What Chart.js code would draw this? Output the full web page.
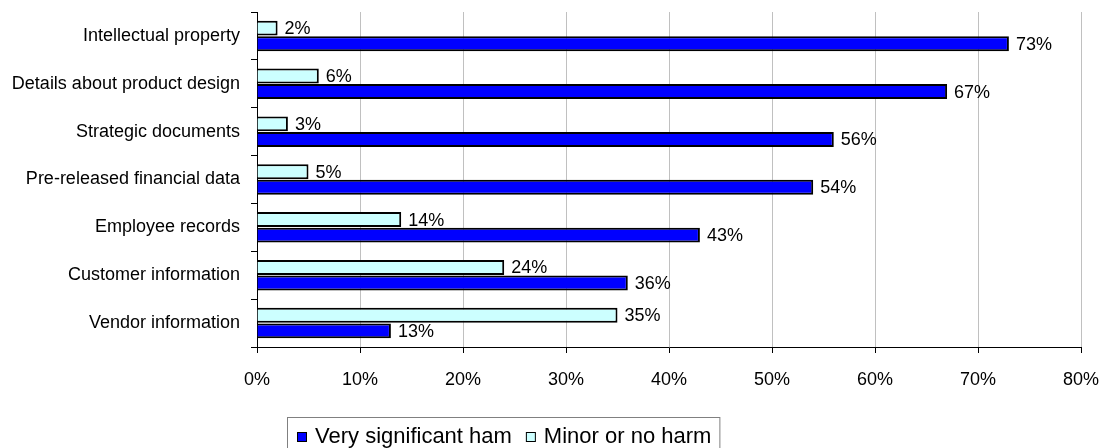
<!DOCTYPE html>
<html>
<head>
<meta charset="utf-8">
<script src="https://cdn.jsdelivr.net/npm/chart.js@4"></script>
<style>
  html, body { margin: 0; padding: 0; background: #ffffff; }
  #wrap { width: 1107px; height: 448px; position: relative; }
</style>
</head>
<body>
<div id="wrap"><canvas id="chart" width="1107" height="448"></canvas></div>
<script>
// dati del grafico
const categories = [
    'Intellectual property',
    'Details about product design',
    'Strategic documents',
    'Pre-released financial data',
    'Employee records',
    'Customer information',
    'Vendor information'
];
const minorHarm = [2, 6, 3, 5, 14, 24, 35];
const significantHarm = [73, 67, 56, 54, 43, 36, 13];
const seriesNames = ['Very significant ham', 'Minor or no harm'];
const xTicks = [0, 10, 20, 30, 40, 50, 60, 70, 80];

const FONT = "'Liberation Sans', Arial, sans-serif";

// etichette valore a destra delle barre
const valueLabels = {
    id: 'valueLabels',
    afterDatasetsDraw(chart) {
        const ctx = chart.ctx;
        ctx.save();
        ctx.font = '18px ' + FONT;
        ctx.fillStyle = '#000';
        ctx.textAlign = 'left';
        ctx.textBaseline = 'middle';
        chart.data.datasets.forEach((ds, i) => {
            chart.getDatasetMeta(i).data.forEach((bar, j) => {
                ctx.fillText(ds.data[j] + '%', bar.x + 7, bar.y + 1);
            });
        });
        ctx.restore();
    }
};

// legenda con cornice, come nell'originale
const boxedLegend = {
    id: 'boxedLegend',
    afterDraw(chart) {
        const ctx = chart.ctx;
        const order = [1, 0]; // prima "Very significant", poi "Minor"
        ctx.save();
        ctx.font = '22px ' + FONT;
        ctx.textBaseline = 'middle';
        let x = 297;
        const y = 437;
        order.forEach((idx, k) => {
            const ds = chart.data.datasets[idx];
            ctx.fillStyle = ds.backgroundColor;
            ctx.fillRect(x, y - 5, 10, 10);
            ctx.strokeStyle = '#000';
            ctx.lineWidth = 1;
            ctx.strokeRect(x + 0.5, y - 4.5, 9, 9);
            x += 18;
            ctx.fillStyle = '#000';
            ctx.fillText(ds.label, x, y);
            x += ctx.measureText(ds.label).width;
            if (k < order.length - 1) x += 14;
        });
        ctx.strokeStyle = '#808080';
        ctx.lineWidth = 1;
        ctx.strokeRect(287.5, 417.5, x + 8 - 287, 60);
        ctx.restore();
    }
};

const ctx = document.getElementById('chart').getContext('2d');
new Chart(ctx, {
    type: 'bar',
    data: {
        labels: categories,
        datasets: [
            {
                label: seriesNames[1],
                data: minorHarm,
                backgroundColor: '#CCFFFF',
                borderColor: '#000000',
                borderWidth: 2,
                categoryPercentage: 0.65,
                barPercentage: 0.96
            },
            {
                label: seriesNames[0],
                data: significantHarm,
                backgroundColor: '#0000FF',
                borderColor: '#000000',
                borderWidth: 2,
                categoryPercentage: 0.65,
                barPercentage: 0.96
            }
        ]
    },
    options: {
        indexAxis: 'y',
        responsive: false,
        animation: false,
        layout: { padding: { top: 12, right: 26, bottom: 51, left: 0 } },
        plugins: {
            legend: { display: false },
            tooltip: { enabled: false }
        },
        scales: {
            x: {
                min: 0,
                max: 80,
                afterBuildTicks: (scale) => {
                    scale.ticks = xTicks.map(v => ({ value: v }));
                },
                afterFit: (scale) => {
                    scale.height = 50;
                    scale.paddingLeft = 0;
                    scale.paddingRight = 0;
                },
                border: { display: true, color: '#000', width: 1 },
                grid: {
                    color: (c) => c.index === 0 ? 'rgba(0,0,0,0)' : '#c0c0c0',
                    tickColor: '#000',
                    tickLength: 6,
                    lineWidth: 1
                },
                ticks: {
                    color: '#000',
                    padding: 16,
                    font: { family: FONT, size: 18 },
                    callback: (v) => v + '%'
                }
            },
            y: {
                afterFit: (scale) => {
                    scale.width = 257;
                    // niente margine extra per le etichette
                    scale.paddingTop = 0;
                    scale.paddingBottom = 0;
                },
                border: { display: true, color: '#000', width: 1 },
                grid: {
                    drawOnChartArea: false,
                    tickColor: '#000',
                    tickLength: 6,
                    offset: true
                },
                ticks: {
                    color: '#000',
                    padding: 11,
                    font: { family: FONT, size: 18 }
                }
            }
        }
    },
    plugins: [valueLabels, boxedLegend]
});
</script>
</body>
</html>
